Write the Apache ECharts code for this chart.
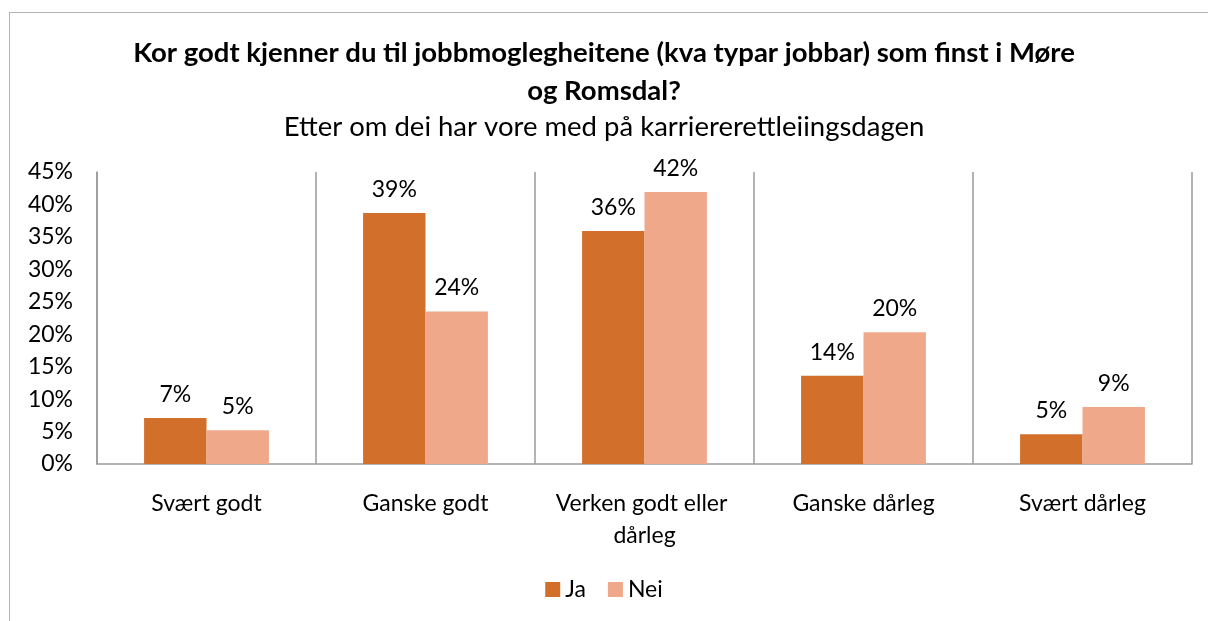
<!DOCTYPE html>
<html>
<head>
<meta charset="utf-8">
<script src="https://cdn.jsdelivr.net/npm/echarts@6/dist/echarts.min.js"></script>
<style>
  html, body { margin: 0; padding: 0; background: #fff; }
  #frame { position: absolute; left: 9px; top: 12px; width: 1199px; height: 609px;
           border-left: 1px solid #b4b4b4; border-top: 1px solid #b4b4b4; }
  #chart { position: absolute; left: 0; top: 0; width: 1208px; height: 621px; }
</style>
</head>
<body>
<div id="frame"></div>
<div id="chart"></div>
<script>
// kategoriar
const categories = ['Svært godt', 'Ganske godt', 'Verken godt eller dårleg', 'Ganske dårleg', 'Svært dårleg'];
// prosentdelar
const ja = [7.1, 38.7, 35.9, 13.6, 4.6];
const nei = [5.2, 23.5, 41.9, 20.3, 8.8];
const yTicks = [0, 5, 10, 15, 20, 25, 30, 35, 40, 45];

const font = 'Lato, "Open Sans", sans-serif';
const chart = echarts.init(document.getElementById('chart'));

const label = {
  show: true,
  position: 'top',
  distance: 12,
  color: '#000',
  fontSize: 23,
  fontFamily: font,
  formatter: p => Math.round(p.value) + '%'
};

chart.setOption({
  animation: false,
  title: [
    {
      text: 'Kor godt kjenner du til jobbmoglegheitene (kva typar jobbar) som finst i Møre\nog Romsdal?',
      left: 'center', top: 29,
      textStyle: { fontFamily: font, fontSize: 27.5, fontWeight: 'bold', color: '#000', lineHeight: 38, align: 'center' }
    },
    {
      text: 'Etter om dei har vore med på karriererettleiingsdagen',
      left: 'center', top: 108,
      textStyle: { fontFamily: font, fontSize: 27.5, fontWeight: 'normal', color: '#000' }
    }
  ],
  legend: {
    bottom: 15, left: 'center',
    itemWidth: 15, itemHeight: 15, itemGap: 22,
    icon: 'rect',
    textStyle: { fontFamily: font, fontSize: 23, color: '#000' },
    data: ['Ja', 'Nei']
  },
  grid: { left: 97, right: 16, top: 172, bottom: 157 },
  xAxis: {
    type: 'category',
    data: categories,
    axisLine: { lineStyle: { color: '#9a9a9a', width: 1.5 } },
    axisTick: { show: false },
    splitLine: { show: true, lineStyle: { color: '#9a9a9a', width: 1.5 } },
    axisLabel: {
      interval: 0, margin: 24, width: 205, overflow: 'break',
      fontFamily: font, fontSize: 23, color: '#000', lineHeight: 32
    }
  },
  yAxis: {
    type: 'value',
    min: 0, max: 45, interval: 5,
    axisLine: { show: true, lineStyle: { color: '#9a9a9a', width: 1.5 } },
    axisTick: { show: false },
    splitLine: { show: false },
    axisLabel: {
      margin: 24, fontFamily: font, fontSize: 23, color: '#000',
      formatter: v => yTicks.includes(v) ? v + '%' : ''
    }
  },
  series: [
    { name: 'Ja', type: 'bar', data: ja, barGap: '0%', barCategoryGap: '43%',
      itemStyle: { color: '#d26f2b' }, label: label },
    { name: 'Nei', type: 'bar', data: nei,
      itemStyle: { color: '#f0a88a' }, label: label }
  ]
});
</script>
</body>
</html>
